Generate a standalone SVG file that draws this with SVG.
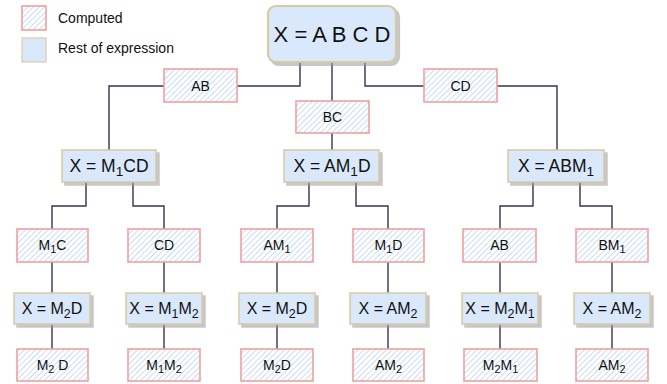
<svg xmlns="http://www.w3.org/2000/svg" width="667" height="384" viewBox="0 0 667 384">
  <defs>
    <!-- diagonal hatch for computed sub-products -->
    <pattern id="hatch" patternUnits="userSpaceOnUse" width="4" height="4" patternTransform="rotate(45)">
      <rect width="4" height="4" fill="#ffffff"/>
      <line x1="0" y1="0" x2="0" y2="4" stroke="#c9dcf5" stroke-width="2"/>
    </pattern>
    <filter id="shadow" x="-10%" y="-10%" width="130%" height="140%">
      <feOffset dx="3" dy="3" in="SourceAlpha" result="off"/>
      <feFlood flood-color="#9a9a9a" flood-opacity="0.55"/>
      <feComposite in2="off" operator="in" result="sh"/>
      <feMerge><feMergeNode in="sh"/><feMergeNode in="SourceGraphic"/></feMerge>
    </filter>
  </defs>
  <style>
    text { font-family: "Liberation Sans", Arial, sans-serif; fill: #111; text-anchor: middle; }
    .comp { fill: url(#hatch); stroke: #f0a09c; stroke-width: 1.6; }
    .rest { fill: #dae8fc; stroke: #d9c9a3; stroke-width: 1.5; filter: url(#shadow); }
    .root { fill: #dae8fc; stroke: #d6c9a6; stroke-width: 2.2; filter: url(#shadow); }
    .lbl { font-size: 14px; }
    .eq2 { font-size: 17.5px; }
    .eq4 { font-size: 16px; }
    .sub { font-size: 0.78em; }
    .legend { font-size: 14px; text-anchor: start; }
    .wire { fill: none; stroke: #3b2f55; stroke-width: 1.4; }
  </style>

  <rect width="667" height="384" fill="#ffffff"/>

  <!-- legend -->
  <g id="legend">
    <rect class="comp" x="22" y="6" width="24" height="24"/>
    <text class="legend" x="58" y="23">Computed</text>
    <rect x="22" y="38" width="24" height="24" fill="#dae8fc" stroke="#e2d3b6" stroke-width="1.5"/>
    <text class="legend" x="58" y="53">Rest of expression</text>
  </g>

  <!-- connectors -->
  <g id="connectors" class="wire">
    <polyline points="300,63 300,86 237,86"/>
    <polyline points="164,86 109,86 109,150"/>
    <polyline points="332,63 332,102"/>
    <polyline points="332,133 332,150"/>
    <polyline points="365,63 365,86 424,86"/>
    <polyline points="497,86 557,86 557,150"/>

    <polyline points="86,182 86,206 52,206 52,229"/>
    <polyline points="133,182 133,206 164,206 164,229"/>
    <polyline points="309,182 309,206 277,206 277,229"/>
    <polyline points="356,182 356,206 388,206 388,229"/>
    <polyline points="533,182 533,206 500,206 500,229"/>
    <polyline points="580,182 580,206 612,206 612,229"/>

    <line x1="52" y1="262" x2="52" y2="293"/>
    <line x1="52" y1="325" x2="52" y2="349"/>
    <line x1="164" y1="262" x2="164" y2="293"/>
    <line x1="164" y1="325" x2="164" y2="349"/>
    <line x1="277" y1="262" x2="277" y2="293"/>
    <line x1="277" y1="325" x2="277" y2="349"/>
    <line x1="388" y1="262" x2="388" y2="293"/>
    <line x1="388" y1="325" x2="388" y2="349"/>
    <line x1="500" y1="262" x2="500" y2="293"/>
    <line x1="500" y1="325" x2="500" y2="349"/>
    <line x1="612" y1="262" x2="612" y2="293"/>
    <line x1="612" y1="325" x2="612" y2="349"/>
  </g>

  <!-- root expression -->
  <g id="root">
    <rect class="root" x="268" y="6" width="128" height="56" rx="8"/>
    <text x="332" y="42" font-size="22">X = A B C D</text>
  </g>

  <!-- first products -->
  <g id="p-ab">
    <rect class="comp" x="164" y="69" width="73" height="33"/>
    <text class="lbl" x="200.5" y="90.5">AB</text>
  </g>
  <g id="p-bc">
    <rect class="comp" x="296" y="101" width="73" height="32"/>
    <text class="lbl" x="332.5" y="122">BC</text>
  </g>
  <g id="p-cd">
    <rect class="comp" x="424" y="69" width="73" height="33"/>
    <text class="lbl" x="460.5" y="90.5">CD</text>
  </g>

  <!-- reduced expressions -->
  <g id="e-m1cd">
    <rect class="rest" x="62" y="150" width="94" height="32"/>
    <text class="eq2" x="109" y="172">X = M<tspan class="sub" dy="4">1</tspan><tspan dy="-4">CD</tspan></text>
  </g>
  <g id="e-am1d">
    <rect class="rest" x="284" y="150" width="95" height="32"/>
    <text class="eq2" x="332" y="172">X = AM<tspan class="sub" dy="4">1</tspan><tspan dy="-4">D</tspan></text>
  </g>
  <g id="e-abm1">
    <rect class="rest" x="508" y="150" width="96" height="32"/>
    <text class="eq2" x="556" y="172">X = ABM<tspan class="sub" dy="4">1</tspan></text>
  </g>

  <!-- second products -->
  <g id="p-m1c">
    <rect class="comp" x="17" y="229" width="71" height="33"/>
    <text class="lbl" x="52.5" y="250">M<tspan class="sub" dy="3">1</tspan><tspan dy="-3">C</tspan></text>
  </g>
  <g id="p-cd2">
    <rect class="comp" x="128" y="229" width="72" height="33"/>
    <text class="lbl" x="164" y="250">CD</text>
  </g>
  <g id="p-am1">
    <rect class="comp" x="241" y="229" width="72" height="33"/>
    <text class="lbl" x="277" y="250">AM<tspan class="sub" dy="3">1</tspan></text>
  </g>
  <g id="p-m1d">
    <rect class="comp" x="353" y="229" width="71" height="33"/>
    <text class="lbl" x="388.5" y="250">M<tspan class="sub" dy="3">1</tspan><tspan dy="-3">D</tspan></text>
  </g>
  <g id="p-ab2">
    <rect class="comp" x="463" y="229" width="73" height="33"/>
    <text class="lbl" x="499.5" y="250">AB</text>
  </g>
  <g id="p-bm1">
    <rect class="comp" x="576" y="229" width="72" height="33"/>
    <text class="lbl" x="612" y="250">BM<tspan class="sub" dy="3">1</tspan></text>
  </g>

  <!-- expressions after second product -->
  <g id="e-m2d-a">
    <rect class="rest" x="14" y="293" width="76" height="31"/>
    <text class="eq4" x="52" y="314">X = M<tspan class="sub" dy="4">2</tspan><tspan dy="-4">D</tspan></text>
  </g>
  <g id="e-m1m2">
    <rect class="rest" x="126" y="293" width="76" height="31"/>
    <text class="eq4" x="164" y="314">X = M<tspan class="sub" dy="4">1</tspan><tspan dy="-4">M</tspan><tspan class="sub" dy="4">2</tspan></text>
  </g>
  <g id="e-m2d-b">
    <rect class="rest" x="239" y="293" width="76" height="31"/>
    <text class="eq4" x="277" y="314">X = M<tspan class="sub" dy="4">2</tspan><tspan dy="-4">D</tspan></text>
  </g>
  <g id="e-am2-a">
    <rect class="rest" x="350" y="293" width="76" height="31"/>
    <text class="eq4" x="388" y="314">X = AM<tspan class="sub" dy="4">2</tspan></text>
  </g>
  <g id="e-m2m1">
    <rect class="rest" x="462" y="293" width="76" height="31"/>
    <text class="eq4" x="500" y="314">X = M<tspan class="sub" dy="4">2</tspan><tspan dy="-4">M</tspan><tspan class="sub" dy="4">1</tspan></text>
  </g>
  <g id="e-am2-b">
    <rect class="rest" x="574" y="293" width="76" height="31"/>
    <text class="eq4" x="612" y="314">X = AM<tspan class="sub" dy="4">2</tspan></text>
  </g>

  <!-- final products -->
  <g id="f-m2d-a">
    <rect class="comp" x="17" y="349" width="71" height="32"/>
    <text class="lbl" x="52.5" y="370">M<tspan class="sub" dy="3">2</tspan><tspan dy="-3"> D</tspan></text>
  </g>
  <g id="f-m1m2">
    <rect class="comp" x="128" y="349" width="72" height="32"/>
    <text class="lbl" x="164" y="370">M<tspan class="sub" dy="3">1</tspan><tspan dy="-3">M</tspan><tspan class="sub" dy="3">2</tspan></text>
  </g>
  <g id="f-m2d-b">
    <rect class="comp" x="241" y="349" width="72" height="32"/>
    <text class="lbl" x="277" y="370">M<tspan class="sub" dy="3">2</tspan><tspan dy="-3">D</tspan></text>
  </g>
  <g id="f-am2-a">
    <rect class="comp" x="353" y="349" width="71" height="32"/>
    <text class="lbl" x="388.5" y="370">AM<tspan class="sub" dy="3">2</tspan></text>
  </g>
  <g id="f-m2m1">
    <rect class="comp" x="464" y="349" width="73" height="32"/>
    <text class="lbl" x="500.5" y="370">M<tspan class="sub" dy="3">2</tspan><tspan dy="-3">M</tspan><tspan class="sub" dy="3">1</tspan></text>
  </g>
  <g id="f-am2-b">
    <rect class="comp" x="576" y="349" width="72" height="32"/>
    <text class="lbl" x="612" y="370">AM<tspan class="sub" dy="3">2</tspan></text>
  </g>
</svg>
